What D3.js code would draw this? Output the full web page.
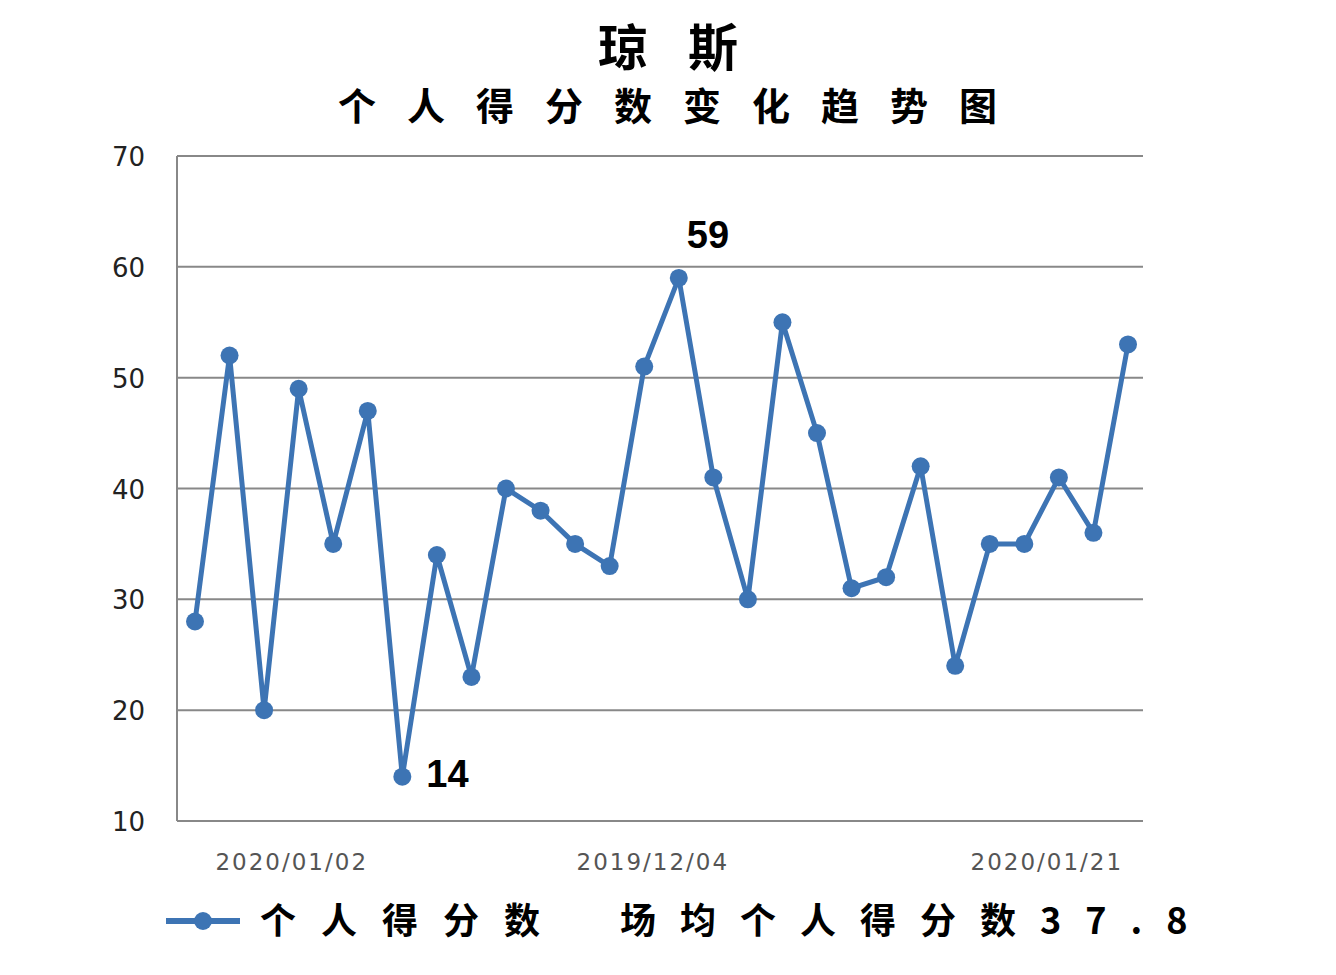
<!DOCTYPE html>
<meta charset="utf-8">
<head>
<script src="https://d3js.org/d3.v7.min.js"></script>
</head>
<body style="margin:0;background:#fff">
<div id="chart"></div>
<script>
    // data
    var scores = [28, 52, 20, 49, 35, 47, 14, 34, 23, 40, 38, 35, 33, 51, 59, 41, 30, 55, 45, 31, 32, 42, 24, 35, 35, 41, 36, 53];
    var tickLabels = ["2020/01/02", "2019/12/04", "2020/01/21"];
    var tickAt = [2.8, 13.25, 24.65];
    var yTicks = [10, 20, 30, 40, 50, 60, 70];
    var marked = [{i: 6, dx: 24, dy: 0}, {i: 14, dx: 8, dy: -40}];

    var W = 1336, H = 975;
    var svg = d3.select("#chart").append("svg").attr("width", W).attr("height", H);
    var font = "'Noto Sans CJK SC', sans-serif";
    var blue = "#3d74b4";

    var x = d3.scaleLinear().domain([0, scores.length - 1]).range([195, 1128]);
    var y = d3.scaleLinear().domain([10, 70]).range([821, 156]);

    // titles
    svg.append("text").attr("x", 688).attr("y", 66).attr("text-anchor", "middle")
      .style("font-family", font).style("font-size", 50).style("font-weight", "bold")
      .style("letter-spacing", "40px").text("琼斯");
    svg.append("text").attr("x", 683).attr("y", 120).attr("text-anchor", "middle")
      .style("font-family", font).style("font-size", 38).style("font-weight", "bold")
      .style("letter-spacing", "31px").text("个人得分数变化趋势图");

    // grid
    svg.append("g").selectAll("line").data(yTicks).enter().append("line")
      .attr("x1", 177).attr("x2", 1143)
      .attr("y1", function(d) { return y(d); }).attr("y2", function(d) { return y(d); })
      .style("stroke", "#888").style("stroke-width", 2);
    svg.append("line").attr("x1", 177).attr("x2", 177).attr("y1", 156).attr("y2", 821)
      .style("stroke", "#888").style("stroke-width", 2);

    svg.append("g").selectAll("text").data(yTicks).enter().append("text")
      .attr("x", 145).attr("y", function(d) { return y(d) + 10; })
      .attr("text-anchor", "end").style("font-family", "'DejaVu Sans', sans-serif")
      .style("font-size", 26).style("fill", "#222").text(function(d) { return d; });

    svg.append("g").selectAll("text").data(tickLabels).enter().append("text")
      .attr("x", function(d, i) { return x(tickAt[i]); }).attr("y", 870)
      .attr("text-anchor", "middle").style("font-family", "'DejaVu Sans', sans-serif")
      .style("font-size", 23).style("fill", "#555").style("letter-spacing", "2px")
      .text(function(d) { return d; });

    // line and dots
    svg.append("path").datum(scores)
      .attr("d", d3.line().x(function(d, i) { return x(i); }).y(function(d) { return y(d); }))
      .style("fill", "none").style("stroke", blue).style("stroke-width", 5);
    svg.append("g").selectAll("circle").data(scores).enter().append("circle")
      .attr("cx", function(d, i) { return x(i); }).attr("cy", function(d) { return y(d); })
      .attr("r", 9).style("fill", blue);

    svg.append("g").selectAll("text").data(marked).enter().append("text")
      .attr("x", function(d) { return x(d.i) + d.dx; })
      .attr("y", function(d) { return y(scores[d.i]) + d.dy; })
      .attr("dominant-baseline", "middle")
      .style("font-family", "'Liberation Sans', sans-serif").style("font-size", 38)
      .style("font-weight", "bold").text(function(d) { return scores[d.i]; });

    // legend
    svg.append("line").attr("x1", 166).attr("x2", 240).attr("y1", 921).attr("y2", 921)
      .style("stroke", blue).style("stroke-width", 6);
    svg.append("circle").attr("cx", 203).attr("cy", 921).attr("r", 9).style("fill", blue);
    svg.append("text").attr("x", 260).attr("y", 934)
      .style("font-family", font).style("font-size", 36).style("font-weight", "bold")
      .style("letter-spacing", "25px").text("个人得分数");
    svg.append("text").attr("x", 620).attr("y", 934)
      .style("font-family", font).style("font-size", 36).style("font-weight", "bold")
      .style("letter-spacing", "24px").text("场均个人得分数37.8");
</script>
</body>
</html>
